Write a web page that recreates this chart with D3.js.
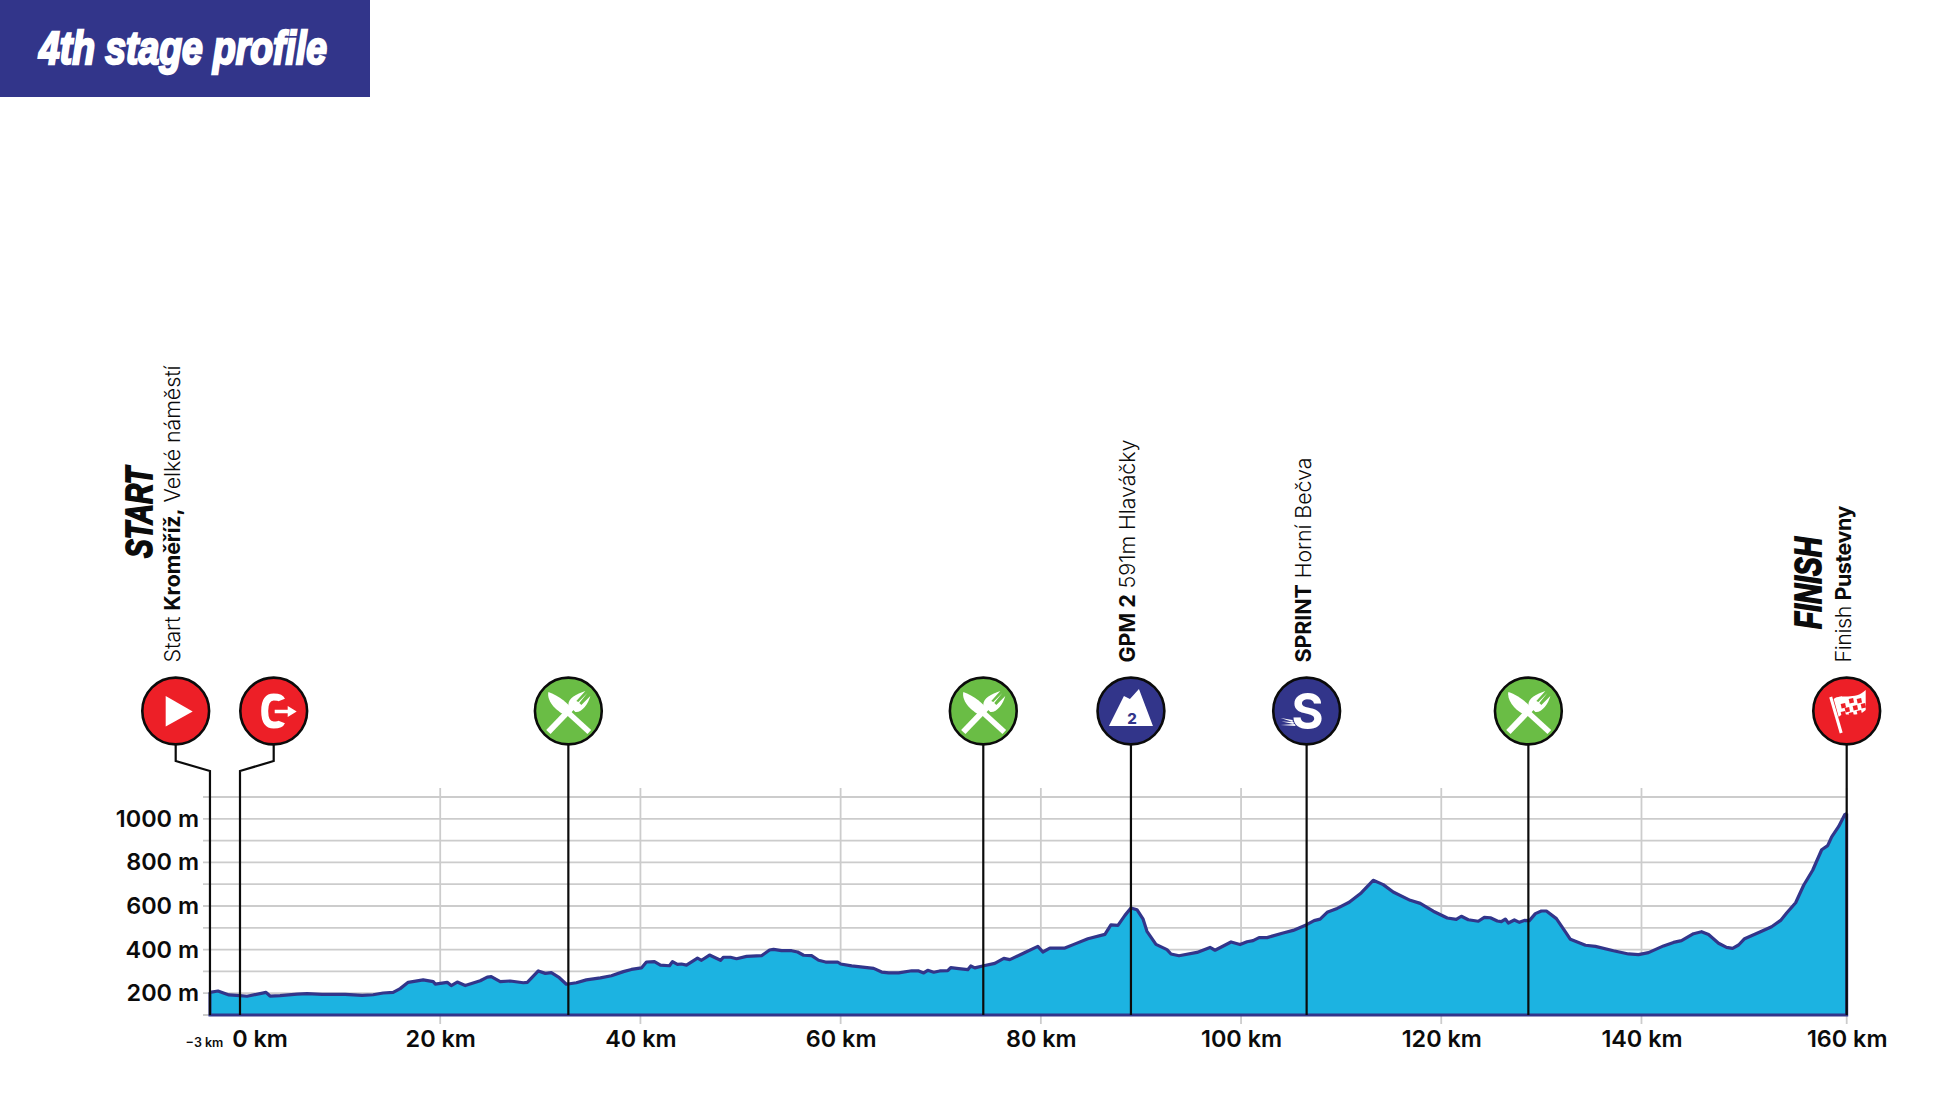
<!DOCTYPE html>
<html>
<head>
<meta charset="utf-8">
<title>4th stage profile</title>
<script src="https://d3js.org/d3.v7.min.js"></script>
<style>
    html, body { margin: 0; padding: 0; background: #fff; }
    svg { display: block; }
    text { font-family: Inter, "Liberation Sans", sans-serif; fill: #0b0b0b; }
    .heading { font-family: "Liberation Sans Narrow", "Liberation Sans", sans-serif; font-weight: 700; font-style: italic; }
</style>
</head>
<body>
<svg id="chart" width="1934" height="1098"></svg>
<script>
// Profile (km from km 0, metres)
const distanceKm = [-3, -2.2, -1.1, 0, 0.7, 2.6, 3, 4, 5.7, 6.7, 8.2, 10.5, 12.2, 13.3, 14.3, 15.3, 16, 16.8, 18.3, 19.3, 19.5, 20.7, 21.1, 21.7, 22.5, 24, 24.7, 25.1, 26, 27, 28.3, 28.7, 29.8, 30.5, 31.1, 31.9, 32.6, 33.6, 34.6, 36, 37.1, 38.3, 39.1, 40.1, 40.6, 41.4, 42, 42.9, 43.2, 43.7, 44.1, 44.6, 45.7, 46.1, 46.9, 48, 48.3, 49, 49.6, 50.6, 52.1, 52.9, 53.3, 54.1, 55.1, 55.7, 56.3, 57.1, 57.8, 58.5, 59.7, 60, 61.1, 63.3, 64.1, 64.8, 65.8, 67.1, 67.8, 68.3, 68.7, 69.3, 69.9, 70.7, 71, 71.8, 72.7, 73, 73.4, 74.3, 75.4, 76.3, 76.9, 78.1, 79.7, 80.2, 80.9, 82.4, 83.3, 84.7, 86.4, 87, 87.7, 88.4, 89, 89.6, 90.2, 90.6, 91.5, 92.6, 93, 93.8, 95.6, 96.9, 97.4, 99, 99.9, 100.6, 101.2, 101.8, 102.6, 104.2, 105.2, 106.5, 107.3, 107.9, 108.6, 109.6, 110.8, 112, 113.2, 114.2, 115.2, 116.9, 117.9, 119.2, 120.6, 121.5, 122, 122.7, 123.7, 124.3, 124.9, 125.6, 126, 126.4, 126.7, 127.3, 127.8, 128.3, 128.8, 129.4, 130, 130.5, 131.5, 132.4, 132.9, 134.4, 135.4, 137.2, 138.7, 139.7, 140.7, 142.2, 143.2, 144, 145.2, 146, 146.7, 147.7, 148.5, 149.1, 149.7, 150.3, 152, 153, 153.9, 154.5, 155.4, 156.2, 157.1, 158, 158.6, 159, 159.7, 160.3, 160.5];
const elevationM = [204, 210, 192, 189, 186, 204, 187, 189, 196, 198, 195, 195, 190, 193, 201, 204, 221, 250, 261, 253, 242, 250, 235, 251, 235, 257, 274, 276, 253, 256, 248, 250, 302, 291, 294, 271, 241, 248, 261, 270, 280, 299, 309, 316, 343, 345, 329, 326, 345, 332, 334, 329, 361, 351, 375, 351, 365, 365, 358, 369, 372, 398, 401, 395, 395, 389, 374, 372, 351, 343, 343, 334, 325, 314, 297, 293, 293, 303, 302, 293, 305, 296, 302, 303, 317, 313, 308, 325, 316, 326, 337, 360, 354, 380, 415, 389, 407, 407, 424, 450, 470, 513, 511, 557, 591, 583, 541, 484, 424, 400, 380, 372, 387, 410, 397, 435, 423, 436, 441, 455, 455, 476, 488, 513, 533, 540, 571, 589, 617, 660, 718, 698, 664, 626, 612, 576, 545, 539, 553, 537, 530, 548, 546, 531, 528, 540, 522, 536, 525, 534, 533, 565, 577, 577, 542, 481, 447, 420, 415, 395, 380, 377, 386, 417, 433, 441, 473, 482, 469, 429, 410, 406, 421, 450, 484, 505, 534, 568, 615, 695, 764, 858, 877, 917, 965, 1019, 1024];

// Axis ticks
const kmTicks = [-3, 0, 20, 40, 60, 80, 100, 120, 140, 160.5];
const kmLabels = ["\u22123 km", "0 km", "20 km", "40 km", "60 km", "80 km", "100 km", "120 km", "140 km", "160 km"];
const gridKm = [20, 40, 60, 80, 100, 120, 140, 160.5];
const elevationTicks = [200, 400, 600, 800, 1000];
const gridLevels = [100, 200, 300, 400, 500, 600, 700, 800, 900, 1000, 1100];

// Markers along the route
const markerKm = [-3, 0, 32.8, 74.25, 89, 106.55, 128.7, 160.5];
const markerIcon = ["start", "flying", "food", "food", "gpm", "sprint", "food", "finish"];
const markerLabels = [
    [["Start ", 300], ["Kroměříž,", 700], [" Velké náměstí", 300]],
    [],
    [],
    [],
    [["GPM 2", 700], [" 591m Hlaváčky", 300]],
    [["SPRINT", 700], [" Horní Bečva", 300]],
    [],
    [["Finish ", 300], ["Pustevny", 700]]
];

const NAVY = "#32358a", RED = "#ed1f27", GREEN = "#6abd45", SKY = "#1cb3e1", GRID = "#cccccc";

const svg = d3.select("#chart");

const x = d3.scaleLinear().domain([0, 160.5]).range([240, 1846.7]);
const y = d3.scaleLinear().domain([100, 1100]).range([1015, 797]);

// Banner
svg.append("rect").attr("width", 370).attr("height", 97).attr("fill", NAVY);
svg.append("text").attr("class", "heading")
    .attr("x", 39).attr("y", 64)
    .attr("font-size", 46)
    .attr("textLength", 288).attr("lengthAdjust", "spacingAndGlyphs")
    .style("fill", "#fff").style("stroke", "#fff").style("stroke-width", 2.4)
    .text("4th stage profile");

// Grid
svg.append("g").selectAll("line").data(gridKm).join("line")
    .attr("x1", d => x(d)).attr("x2", d => x(d))
    .attr("y1", 788).attr("y2", 1024)
    .attr("stroke", GRID).attr("stroke-width", 1.8);
svg.append("g").selectAll("line").data(gridLevels).join("line")
    .attr("x1", 203).attr("x2", x(160.5))
    .attr("y1", d => y(d)).attr("y2", d => y(d))
    .attr("stroke", GRID).attr("stroke-width", 1.8);

// Profile
const profile = distanceKm.map((d, i) => [d, elevationM[i]]);
const area = d3.area().x(d => x(d[0])).y0(y(100)).y1(d => y(d[1]));
const line = d3.line().x(d => x(d[0])).y(d => y(d[1]));
svg.append("path").datum(profile).attr("d", area).attr("fill", SKY);
svg.append("path").datum(profile).attr("d", line)
    .attr("fill", "none").attr("stroke", NAVY).attr("stroke-width", 3.2).attr("stroke-linejoin", "round");
// closing edges of the area
svg.append("path")
    .attr("d", d3.line()([[x(-3), y(204)], [x(-3), y(100)], [x(160.5), y(100)], [x(160.5), y(1024)]]))
    .attr("fill", "none").attr("stroke", NAVY).attr("stroke-width", 3);

// Axes
const xAxis = d3.axisBottom(x)
    .tickValues(kmTicks)
    .tickSize(0)
    .tickFormat((d, i) => kmLabels[i]);
const xG = svg.append("g").attr("transform", "translate(0,1047)").call(xAxis);
xG.select(".domain").remove();
xG.selectAll("text")
    .attr("y", 0).attr("dy", 0)
    .attr("font-size", d => d === -3 ? 12.5 : 23.4)
    .attr("font-weight", 600)
    .attr("font-family", "Inter")
    .attr("dx", d => d === -3 ? -6 : d === 0 ? 19.5 : 0);

const yAxis = d3.axisLeft(y).tickValues(elevationTicks).tickSize(0).tickFormat(d => d + " m");
const yG = svg.append("g").attr("transform", "translate(199,0)").call(yAxis);
yG.select(".domain").remove();
yG.selectAll("text")
    .attr("x", 0).attr("dy", 7.5)
    .attr("font-size", 23.4)
    .attr("font-weight", 600)
    .attr("font-family", "Inter");

// Marker leaders
const CY = 711, R = 33.4;
function markerX(i) {
    if (i === 0) return 175.7;
    if (i === 1) return 273.7;
    return x(markerKm[i]);
}
svg.append("g").selectAll("path").data(markerKm).join("path")
    .attr("d", (d, i) => {
        const cx = markerX(i);
        if (i < 2) return d3.line()([[cx, CY], [cx, 761], [x(d), 771], [x(d), y(100)]]);
        return d3.line()([[cx, CY], [cx, y(100)]]);
    })
    .attr("fill", "none").attr("stroke", "#0b0b0b").attr("stroke-width", 2.2);

// Marker circles and icons
const icons = {
    start: g => {
        g.append("path").attr("d", "M-10,-15L17,0.5L-10,15.5Z").attr("fill", "#fff");
    },
    flying: g => {
        g.append("path").attr("d", "M8,-11C7,-13.5 4,-14 0,-14C-6,-14 -9,-9 -9,0C-9,9 -6,14 0,14C4,14 7,13.5 8,11")
            .attr("fill", "none").attr("stroke", "#fff").attr("stroke-width", 7);
        g.append("path").attr("d", "M1,-3.5H13V3.5H1Z").attr("fill", RED);
        g.append("path").attr("d", "M1,-1.2H14V-5L23,0.5L14,6V2.2H1Z").attr("fill", "#fff");
    },
    food: g => {
        g.append("path").attr("d", "M-20,-19C-10,-16 2,-6 4,-1L-1,5C-10,2 -22,-9 -20,-19Z").attr("fill", "#fff");
        g.append("line").attr("x1", -2).attr("y1", 0).attr("x2", 21).attr("y2", 21)
            .attr("stroke", "#fff").attr("stroke-width", 5.5);
        g.append("line").attr("x1", -20).attr("y1", 21).attr("x2", 5).attr("y2", -5)
            .attr("stroke", "#fff").attr("stroke-width", 6);
        g.append("path").attr("d", "M0,-6C0,-13 8,-17 17,-20L8,-10L10,-9L19,-18L11,-8L13,-6L22,-15C20,-7 13,2 7,1Z").attr("fill", "#fff");
    },
    gpm: g => {
        g.append("path").attr("d", "M-22,15L-7,-15L-1,-12L8,-22L22,15Z").attr("fill", "#fff");
        g.append("text").attr("x", 1).attr("y", 13).attr("text-anchor", "middle")
            .attr("font-size", 15).attr("font-weight", 800).style("fill", NAVY).text("2");
    },
    sprint: g => {
        g.append("text").attr("x", 1).attr("y", 17.5).attr("text-anchor", "middle")
            .attr("font-size", 49).attr("font-weight", 700).style("fill", "#fff").text("S");
        g.append("path").attr("d", "M-26,7L-14,9L-14,11ZM-25,10.5L-13,11L-13,13ZM-26,14L-12,13L-11,15Z").attr("fill", "#fff");
    },
    finish: g => {
        g.append("line").attr("x1", -16).attr("y1", -14).attr("x2", -5.5).attr("y2", 22)
            .attr("stroke", "#fff").attr("stroke-width", 3);
        g.append("path").attr("d", "M-13,-12C-6,-18 8,-10 19,-21L19,-1C10,8 -4,0 -8,6Z").attr("fill", "#fff");
        const squares = [[-6, -7], [2, -12], [10, -12], [-2, -3], [6, -5], [14, -7], [-6, 1], [2, 2], [10, 0]];
        g.selectAll("rect").data(squares).join("rect")
            .attr("x", d => d[0]).attr("y", d => d[1])
            .attr("width", 4.5).attr("height", 4.5)
            .attr("transform", d => `rotate(-12 ${d[0]} ${d[1]})`)
            .attr("fill", RED);
    }
};
const fills = { start: RED, flying: RED, food: GREEN, gpm: NAVY, sprint: NAVY, finish: RED };
const labelLength = { 0: 297, 4: 223, 5: 205, 7: 157 };

markerKm.forEach((d, i) => {
    const g = svg.append("g").attr("transform", `translate(${markerX(i)},${CY})`);
    g.append("circle").attr("r", R)
        .attr("fill", fills[markerIcon[i]])
        .attr("stroke", "#0b0b0b").attr("stroke-width", 2.6);
    icons[markerIcon[i]](g);

    // vertical place label
    if (markerLabels[i].length) {
        const t = svg.append("text")
            .attr("transform", `translate(${markerX(i) + 4.5},662.5) rotate(-90)`)
            .attr("font-size", 21.5)
            .attr("textLength", labelLength[i]);
        markerLabels[i].forEach(s => {
            t.append("tspan").attr("font-weight", s[1]).text(s[0]);
        });
    }
});

// START / FINISH headings
svg.append("text").attr("class", "heading")
    .attr("transform", "translate(152,558) rotate(-90)")
    .attr("font-size", 37).attr("textLength", 91).attr("lengthAdjust", "spacingAndGlyphs")
    .style("stroke", "#0b0b0b").style("stroke-width", 1.8)
    .text("START");
svg.append("text").attr("class", "heading")
    .attr("transform", "translate(1820.7,629) rotate(-90)")
    .attr("font-size", 37).attr("textLength", 92).attr("lengthAdjust", "spacingAndGlyphs")
    .style("stroke", "#0b0b0b").style("stroke-width", 1.8)
    .text("FINISH");
</script>
</body>
</html>
